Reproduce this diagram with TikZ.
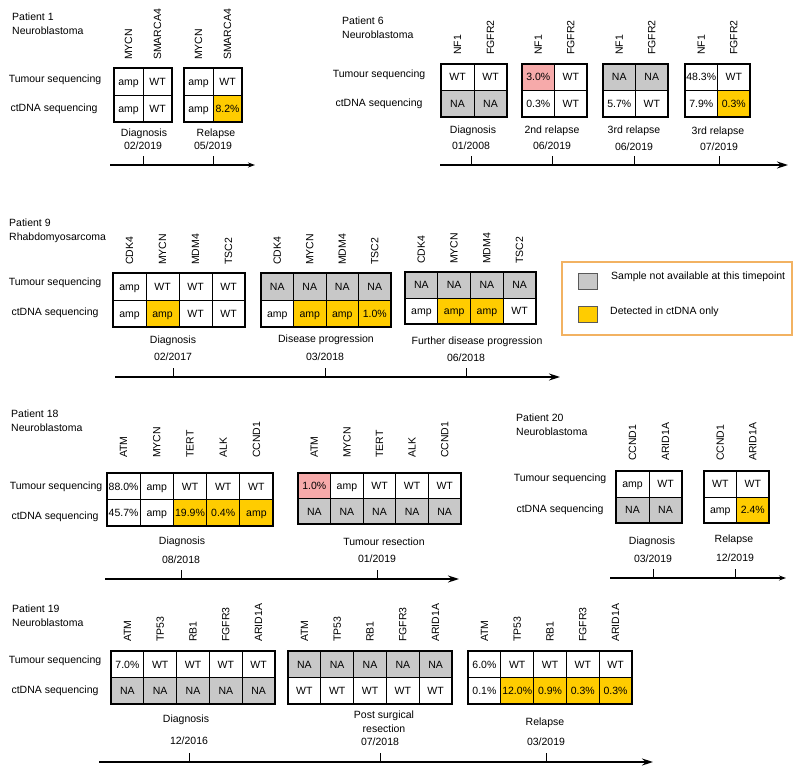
\documentclass[tikz,border=0pt]{standalone}
\usepackage{fontspec}
\setmainfont{Liberation Sans}
\usetikzlibrary{arrows.meta}

\definecolor{ctyellow}{RGB}{255,204,0}
\definecolor{nagray}{RGB}{200,200,200}
\definecolor{tumpink}{RGB}{246,170,170}
\definecolor{legorange}{RGB}{242,178,98}

% two-row gene table: name, left x, top y, cell width, cell height, columns, gene label y, cells
\newcommand{\gtab}[8]{%
  \foreach \g/\fu/\up/\fd/\dn [count=\i] in {#8} {
    \node[cell, fill=\fu, minimum width=#4, minimum height=#5] (#1t\i) at ({#2+(\i-0.5)*#4}, {#3+0.5*#5}) {\up};
    \node[cell, fill=\fd, minimum width=#4, minimum height=#5] (#1b\i) at ({#2+(\i-0.5)*#4}, {#3+1.5*#5}) {\dn};
    \node[gene] (#1g\i) at ({#2+(\i-0.5)*#4}, #7) {\g};
  }
  \draw[frame] (#1t1.north west) rectangle (#1b#6.south east);
}

% time point: name, label x, label y, label, date x, date y, date, axis
\newcommand{\tpoint}[8]{%
  \node[when] (#1l) at (#2,#3) {#4};
  \node[when] (#1d) at (#5,#6) {#7};
  \draw[tick] (#1d |- #8) -- ++(0,-9);
}

\begin{document}
\begin{tikzpicture}[x=1pt, y=-1pt, font=\fontsize{10.5pt}{14pt}\selectfont,
  cell/.style={draw, line width=0.8pt, inner sep=0pt, outer sep=0pt, text height=7.5pt, text depth=0pt},
  frame/.style={line width=1.4pt},
  gene/.style={rotate=90, anchor=west, inner sep=0pt},
  seq/.style={inner sep=0pt},
  who/.style={anchor=north west, align=left, inner sep=0pt},
  when/.style={inner sep=0pt, align=center},
  tick/.style={line width=0.8pt},
  axis/.style={line width=1.5pt, -{Stealth[length=11pt, width=7pt]}},
  short axis/.style={line width=1.1pt, -{Stealth[length=7pt, width=5pt]}},
  legbox/.style={draw=legorange, line width=1.1pt, minimum width=230, minimum height=73},
  legsq/.style={draw=black!65, line width=0.8pt, minimum width=19, minimum height=16, inner sep=0pt},
  legtext/.style={anchor=west, inner sep=0pt}]
\useasboundingbox (0,0) rectangle (800,775);

% Patient 1
\node[who] (p1) at (12,13) {Patient 1\\Neuroblastoma};
\node[seq] (p1tum) at (55,80) {Tumour sequencing};
\node[seq] (p1ct) at (54,109) {ctDNA sequencing};
\gtab{p1a}{114}{68}{29}{27}{2}{60}{MYCN/white/amp/white/amp,
  SMARCA4/white/WT/white/WT}
\gtab{p1b}{184}{68}{29}{27}{2}{60}{MYCN/white/amp/white/amp,
  SMARCA4/white/WT/ctyellow/8.2\%}
\coordinate (p1ax) at (110,165);
\coordinate (p1ae) at (255,165);
\draw[short axis] (p1ax) -- (p1ae);
\tpoint{p1w1}{144}{134}{Diagnosis}{143}{146}{02/2019}{p1ax}
\tpoint{p1w2}{216}{134}{Relapse}{213}{146}{05/2019}{p1ax}

% Patient 6
\node[who] (p6) at (342,17) {Patient 6\\Neuroblastoma};
\node[seq] (p6tum) at (379,75) {Tumour sequencing};
\node[seq] (p6ct) at (379,104) {ctDNA sequencing};
\gtab{p6a}{441}{64}{33}{26.5}{2}{55}{NF1/white/WT/nagray/NA,
  FGFR2/white/WT/nagray/NA}
\gtab{p6b}{522}{64}{32.5}{26.5}{2}{55}{NF1/tumpink/3.0\%/white/0.3\%,
  FGFR2/white/WT/white/WT}
\gtab{p6c}{603}{64}{32.5}{26.5}{2}{55}{NF1/nagray/NA/white/5.7\%,
  FGFR2/nagray/NA/white/WT}
\gtab{p6d}{685}{64}{32.5}{26.5}{2}{55}{NF1/white/48.3\%/white/7.9\%,
  FGFR2/white/WT/ctyellow/0.3\%}
\coordinate (p6ax) at (440,165);
\coordinate (p6ae) at (788,165);
\draw[axis] (p6ax) -- (p6ae);
\tpoint{p6w1}{473}{131}{Diagnosis}{471}{146}{01/2008}{p6ax}
\tpoint{p6w2}{552}{131}{2nd relapse}{552}{146}{06/2019}{p6ax}
\tpoint{p6w3}{634}{131}{3rd relapse}{634}{147}{06/2019}{p6ax}
\tpoint{p6w4}{718}{132}{3rd relapse}{719}{147}{07/2019}{p6ax}

% Patient 9
\node[who] (p9) at (9,219) {Patient 9\\Rhabdomyosarcoma};
\node[seq] (p9tum) at (55,283) {Tumour sequencing};
\node[seq] (p9ct) at (55,313) {ctDNA sequencing};
\gtab{p9a}{113}{273}{33}{27}{4}{265}{CDK4/white/amp/white/amp,
  MYCN/white/WT/ctyellow/amp,
  MDM4/white/WT/white/WT,
  TSC2/white/WT/white/WT}
\gtab{p9b}{261}{273}{32.5}{27}{4}{265}{CDK4/nagray/NA/white/amp,
  MYCN/nagray/NA/ctyellow/amp,
  MDM4/nagray/NA/ctyellow/amp,
  TSC2/nagray/NA/ctyellow/1.0\%}
\gtab{p9c}{405}{272}{32.75}{26}{4}{264}{CDK4/nagray/NA/white/amp,
  MYCN/nagray/NA/ctyellow/amp,
  MDM4/nagray/NA/ctyellow/amp,
  TSC2/nagray/NA/white/WT}
\coordinate (p9ax) at (115,377);
\coordinate (p9ae) at (560,377);
\draw[axis] (p9ax) -- (p9ae);
\tpoint{p9w1}{173}{341}{Diagnosis}{173}{357}{02/2017}{p9ax}
\tpoint{p9w2}{326}{340}{Disease progression}{325}{357}{03/2018}{p9ax}
\tpoint{p9w3}{477}{342}{Further disease progression}{466}{358}{06/2018}{p9ax}

% legend
\node[legbox] (leg) at (677,298.5) {};
\node[legsq, fill=nagray] (legna) at (587.5,281) {};
\node[legtext] (legnat) at (611,277) {Sample not available at this timepoint};
\node[legsq, fill=ctyellow] (legct) at (587.5,314.5) {};
\node[legtext] (legctt) at (610,312) {Detected in ctDNA only};

% Patient 18
\node[who] (p18) at (11,410) {Patient 18\\Neuroblastoma};
\node[seq] (p18tum) at (56,487) {Tumour sequencing};
\node[seq] (p18ct) at (55,517) {ctDNA sequencing};
\gtab{p18a}{107}{473}{33.2}{26.5}{5}{458}{ATM/white/88.0\%/white/45.7\%,
  MYCN/white/amp/white/amp,
  TERT/white/WT/ctyellow/19.9\%,
  ALK/white/WT/ctyellow/0.4\%,
  CCND1/white/WT/ctyellow/amp}
\gtab{p18b}{298}{473}{32.6}{25.5}{5}{458}{ATM/tumpink/1.0\%/nagray/NA,
  MYCN/white/amp/nagray/NA,
  TERT/white/WT/nagray/NA,
  ALK/white/WT/nagray/NA,
  CCND1/white/WT/nagray/NA}
\coordinate (p18ax) at (105,579);
\coordinate (p18ae) at (459,579);
\draw[axis] (p18ax) -- (p18ae);
\tpoint{p18w1}{182}{542}{Diagnosis}{181}{560}{08/2018}{p18ax}
\tpoint{p18w2}{384}{542}{Tumour resection}{377}{559}{01/2019}{p18ax}

% Patient 20
\node[who] (p20) at (516,414) {Patient 20\\Neuroblastoma};
\node[seq] (p20tum) at (560,479) {Tumour sequencing};
\node[seq] (p20ct) at (560,510) {ctDNA sequencing};
\gtab{p20a}{616}{471}{33}{26}{2}{461}{CCND1/white/amp/nagray/NA,
  ARID1A/white/WT/nagray/NA}
\gtab{p20b}{704}{471}{32.5}{26}{2}{461}{CCND1/white/WT/white/amp,
  ARID1A/white/WT/ctyellow/2.4\%}
\coordinate (p20ax) at (610,578);
\coordinate (p20ae) at (786,578);
\draw[short axis] (p20ax) -- (p20ae);
\tpoint{p20w1}{652}{542}{Diagnosis}{653}{559}{03/2019}{p20ax}
\tpoint{p20w2}{734}{540}{Relapse}{735}{558}{12/2019}{p20ax}

% Patient 19
\node[who] (p19) at (12,605) {Patient 19\\Neuroblastoma};
\node[seq] (p19tum) at (55,661) {Tumour sequencing};
\node[seq] (p19ct) at (55,691) {ctDNA sequencing};
\gtab{p19a}{111}{651}{32.8}{26.5}{5}{642}{ATM/white/7.0\%/nagray/NA,
  TP53/white/WT/nagray/NA,
  RB1/white/WT/nagray/NA,
  FGFR3/white/WT/nagray/NA,
  ARID1A/white/WT/nagray/NA}
\gtab{p19b}{288}{651}{32.8}{26.5}{5}{642}{ATM/nagray/NA/white/WT,
  TP53/nagray/NA/white/WT,
  RB1/nagray/NA/white/WT,
  FGFR3/nagray/NA/white/WT,
  ARID1A/nagray/NA/white/WT}
\gtab{p19c}{468}{651}{32.8}{26.5}{5}{642}{ATM/white/6.0\%/white/0.1\%,
  TP53/white/WT/ctyellow/12.0\%,
  RB1/white/WT/ctyellow/0.9\%,
  FGFR3/white/WT/ctyellow/0.3\%,
  ARID1A/white/WT/ctyellow/0.3\%}
\coordinate (p19ax) at (99,762);
\coordinate (p19ae) at (653,762);
\draw[axis] (p19ax) -- (p19ae);
\tpoint{p19w1}{186}{720}{Diagnosis}{189}{741}{12/2016}{p19ax}
\tpoint{p19w2}{384}{721.5}{Post surgical\\resection}{380}{742}{07/2018}{p19ax}
\tpoint{p19w3}{545}{723}{Relapse}{546}{742}{03/2019}{p19ax}
\end{tikzpicture}
\end{document}
